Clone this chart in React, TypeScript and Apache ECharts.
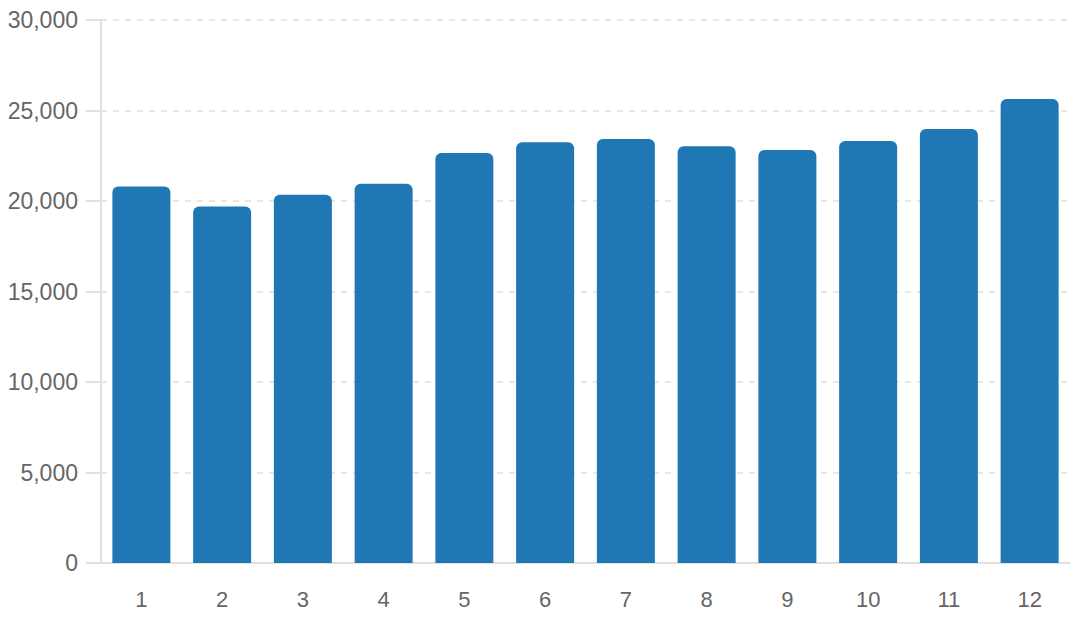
import React, { useEffect, useRef } from "react";
import * as echarts from "echarts";

const categories = ["1", "2", "3", "4", "5", "6", "7", "8", "9", "10", "11", "12"];
const values = [20800, 19700, 20350, 20950, 22650, 23250, 23430, 23020, 22820, 23310, 23980, 25640];

export default function App() {
  const ref = useRef<HTMLDivElement>(null);
  useEffect(() => {
    const chart = echarts.init(ref.current!, undefined, { renderer: "svg" });
    chart.setOption({
      animation: false,
      grid: { left: 101, right: 1, top: 20, bottom: 57, containLabel: false },
      xAxis: {
        type: "category",
        data: categories,
        axisLine: { lineStyle: { color: "#e0e0e0", width: 2 } },
        axisTick: { show: false },
        axisLabel: { color: "#666", fontSize: 22, margin: 25, fontFamily: "Liberation Sans, Arial, sans-serif" },
      },
      yAxis: {
        type: "value",
        min: 0,
        max: 30000,
        interval: 5000,
        axisLine: { show: true, lineStyle: { color: "#e0e0e0", width: 2 } },
        axisTick: { show: true, length: 15, lineStyle: { color: "#e0e0e0", width: 2 } },
        axisLabel: {
          color: "#666",
          fontSize: 23,
          margin: 23,
          fontFamily: "Liberation Sans, Arial, sans-serif",
          formatter: (v: number) => v.toLocaleString("en-US"),
        },
        splitLine: { lineStyle: { color: "#e0e0e0", type: [6, 6], width: 1.5 } },
      },
      series: [
        {
          type: "bar",
          data: values,
          barWidth: 58,
          itemStyle: { color: "#1f77b4", borderRadius: [6, 6, 0, 0] },
        },
      ],
    });
    return () => chart.dispose();
  }, []);
  return <div ref={ref} style={{ width: 1071, height: 620, position: "absolute", left: 0, top: 0 }} />;
}
